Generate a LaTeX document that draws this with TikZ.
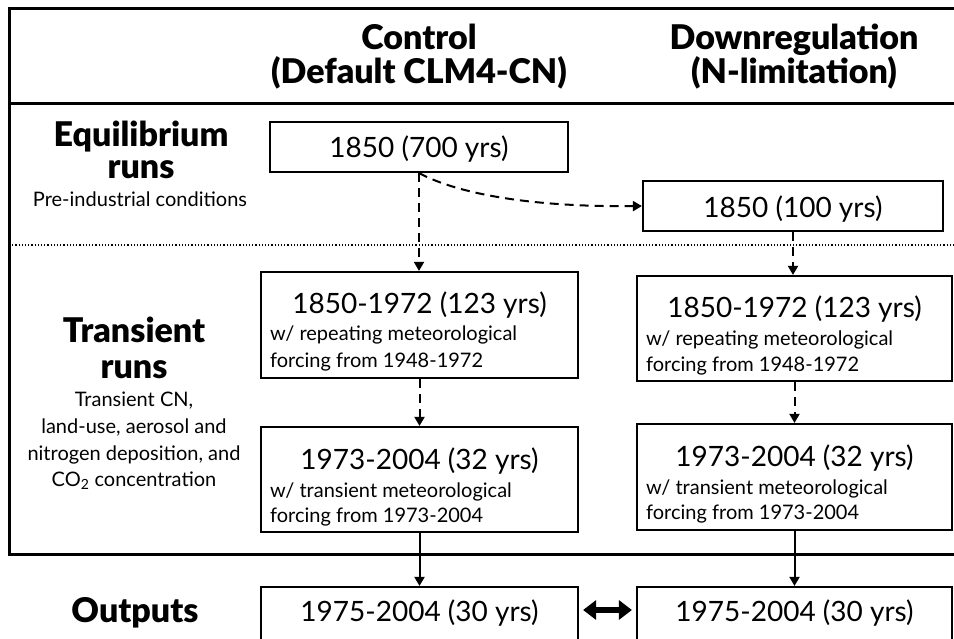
\documentclass[tikz,border=0pt]{standalone}
\usepackage{fontspec}
\setmainfont{Lato}
\newfontfamily\heavyfont{Lato Black}
\usetikzlibrary{arrows.meta}
\begin{document}
\begin{tikzpicture}[x=1pt,y=-1pt,
  box/.style={draw,line width=2.2pt,inner sep=0pt},
  ttl/.style={font=\fontsize{28}{30}\selectfont,inner sep=0pt,anchor=base},
  sub/.style={font=\fontsize{20}{22}\selectfont,inner sep=0pt,anchor=base west},
  hdr/.style={font=\fontsize{34}{36}\selectfont\heavyfont,inner sep=0pt,anchor=base},
  note/.style={font=\fontsize{20}{22}\selectfont,inner sep=0pt,anchor=base},
  tip/.style={-{Triangle[width=10pt,length=9pt]}},
  dasharrow/.style={tip,line width=2pt,dash pattern=on 9pt off 6pt},
  solidarrow/.style={tip,line width=2pt},
  bigarrow/.style={line width=6pt,{Triangle[width=19pt,length=13pt]}-{Triangle[width=19pt,length=13pt]}}]

\useasboundingbox (0,0) rectangle (954,639);
\fill[white] (0,0) rectangle (954,639);

% frame
\draw[line width=3pt] (975,9) -- (9,9) -- (9,554) -- (975,554);
\draw[line width=3pt] (9,104) -- (975,104);
\draw[line width=1.2pt,dotted] (9,245) -- (975,245);

% headers
\node[hdr] (h1a) at (419,50) {Control};
\node[hdr] (h1b) at (419,84) {(Default CLM4-CN)};
\node[hdr] (h2a) at (794,50) {Downregulation};
\node[hdr] (h2b) at (794,84) {(N-limitation)};

% left labels
\node[hdr] (l1a) at (141,147) {Equilibrium};
\node[hdr] (l1b) at (141,179) {runs};
\node[note] (l1c) at (140,207) {Pre-industrial conditions};

\node[hdr] (l2a) at (134,343) {Transient};
\node[hdr] (l2b) at (134,378) {runs};
\node[note] (l2c) at (134,406) {Transient CN,};
\node[note] (l2d) at (134,433) {land-use, aerosol and};
\node[note] (l2e) at (134,460) {nitrogen deposition, and};
\node[note] (l2f) at (134,486) {CO\textsubscript{2} concentration};

\node[hdr] (l3a) at (135,622) {Outputs};

% equilibrium boxes
\node[box,minimum width=298pt,minimum height=50pt] (c1) at (419,147) {};
\node[ttl] (c1t) at (419,158) {1850 (700 yrs)};
\node[box,minimum width=300pt,minimum height=50pt] (d1) at (793,206) {};
\node[ttl] (d1t) at (793,218) {1850 (100 yrs)};

% transient boxes, control
\node[box,minimum width=317pt,minimum height=106pt] (c2) at (419.5,325) {};
\node[ttl] (c2t) at (419.5,314) {1850-1972 (123 yrs)};
\node[sub] (c2s1) at (270,341) {w/ repeating meteorological};
\node[sub] (c2s2) at (270,367) {forcing from 1948-1972};

\node[box,minimum width=317pt,minimum height=105pt] (c3) at (419.5,479.5) {};
\node[ttl] (c3t) at (419.5,469) {1973-2004 (32 yrs)};
\node[sub] (c3s1) at (270,497) {w/ transient meteorological};
\node[sub] (c3s2) at (270,522) {forcing from 1973-2004};

% transient boxes, downregulation
\node[box,minimum width=315pt,minimum height=105pt] (d2) at (794.5,328.5) {};
\node[ttl] (d2t) at (794.5,318) {1850-1972 (123 yrs)};
\node[sub] (d2s1) at (646,345) {w/ repeating meteorological};
\node[sub] (d2s2) at (646,371) {forcing from 1948-1972};

\node[box,minimum width=315pt,minimum height=106pt] (d3) at (794.5,477) {};
\node[ttl] (d3t) at (794.5,466) {1973-2004 (32 yrs)};
\node[sub] (d3s1) at (646,494) {w/ transient meteorological};
\node[sub] (d3s2) at (646,519) {forcing from 1973-2004};

% outputs
\node[box,minimum width=317pt,minimum height=58pt] (o1) at (419.5,616) {};
\node[ttl] (o1t) at (419.5,621) {1975-2004 (30 yrs)};
\node[box,minimum width=315pt,minimum height=58pt] (o2) at (794.5,616) {};
\node[ttl] (o2t) at (794.5,621) {1975-2004 (30 yrs)};
\coordinate (oy) at (0,610);

% connectors
\draw[dasharrow] (c1.south) -- (c1.south |- c2.north);
\draw[dasharrow] (c1.south) .. controls (470,200) and (560,207) .. (d1.west);
\draw[dasharrow] (d1.south) -- (d1.south |- d2.north);
\draw[dasharrow] (c2.south) -- (c2.south |- c3.north);
\draw[dasharrow] (d2.south) -- (d2.south |- d3.north);
\draw[solidarrow] (c3.south) -- (c3.south |- o1.north);
\draw[solidarrow] (d3.south) -- (d3.south |- o2.north);
\draw[bigarrow,shorten <=4pt,shorten >=4pt] (o1.east |- oy) -- (o2.west |- oy);
\end{tikzpicture}
\end{document}
